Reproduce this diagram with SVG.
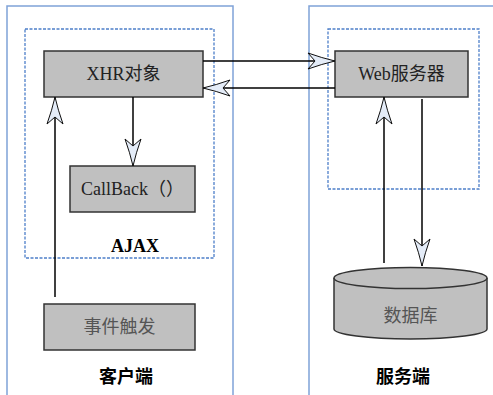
<svg xmlns="http://www.w3.org/2000/svg" width="493" height="395" viewBox="0 0 493 395">
<style>
.frame{fill:none;stroke:#7fa2d8;stroke-width:1.5}
.dash{fill:none;stroke:#4d7fc9;stroke-width:1.3;stroke-dasharray:3 1.5}
.box{fill:#c0c0c0;stroke:#333;stroke-width:1.5}
.t{font-family:"Liberation Serif","Noto Sans CJK SC",serif;font-size:18px;text-anchor:middle;fill:#222}
.g{fill:#555}
.lbl{font-family:"Liberation Serif","Noto Sans CJK SC",serif;font-size:18px;font-weight:bold;text-anchor:middle;fill:#000}
.ln{stroke:#000;stroke-width:1.5;fill:none}
</style>
<defs>
<marker id="ah" markerUnits="userSpaceOnUse" markerWidth="30" markerHeight="20" viewBox="-28 -10 30 20" refX="0" refY="0" orient="auto">
<path d="M0,0 Q-13,-3 -27,-8 L-20,0 L-27,8 Q-13,3 0,0 Z" fill="#e4ecf8" stroke="#111" stroke-width="1"/>
</marker>
</defs>
<rect width="493" height="395" fill="#fff"/>
<g id="client-frame">
<rect class="frame" x="7" y="6" width="226" height="400"/>
<text class="lbl" x="126" y="383">客户端</text>
</g>
<g id="server-frame">
<rect class="frame" x="309" y="6" width="200" height="400"/>
<text class="lbl" x="403" y="383">服务端</text>
</g>
<g id="ajax-frame">
<rect class="dash" x="25" y="29" width="189" height="229"/>
<text class="lbl" x="135" y="252">AJAX</text>
</g>
<g id="web-frame">
<rect class="dash" x="328" y="29" width="151" height="160"/>
</g>
<g id="xhr">
<rect class="box" x="44" y="51" width="159" height="46"/>
<text class="t" x="123.5" y="80">XHR对象</text>
</g>
<g id="callback">
<rect class="box" x="70" y="166" width="125" height="46"/>
<text class="t" x="132.5" y="195">CallBack（）</text>
</g>
<g id="event">
<rect class="box" x="44" y="304" width="151" height="46"/>
<text class="t g" x="119.5" y="333">事件触发</text>
</g>
<g id="web">
<rect class="box" x="335" y="51" width="133" height="46"/>
<text class="t" x="401.5" y="80">Web服务器</text>
</g>
<g id="db">
<path class="box" d="M334,278 L334,329 A76.5,10 0 0 0 487,329 L487,278 A76.5,10.5 0 0 0 334,278 Z"/>
<path d="M334,278 A76.5,10.5 0 0 0 487,278" fill="none" stroke="#333" stroke-width="1.5"/>
<text class="t g" x="410.5" y="322">数据库</text>
</g>
<g id="connectors">
<line class="ln" x1="203" y1="61" x2="335" y2="61" marker-end="url(#ah)"/>
<line class="ln" x1="335" y1="88" x2="203" y2="88" marker-end="url(#ah)"/>
<line class="ln" x1="133" y1="97" x2="133" y2="166" marker-end="url(#ah)"/>
<line class="ln" x1="55" y1="297" x2="55" y2="97" marker-end="url(#ah)"/>
<line class="ln" x1="384" y1="263" x2="384" y2="97" marker-end="url(#ah)"/>
<line class="ln" x1="422" y1="99" x2="422" y2="266" marker-end="url(#ah)"/>
</g>
</svg>
